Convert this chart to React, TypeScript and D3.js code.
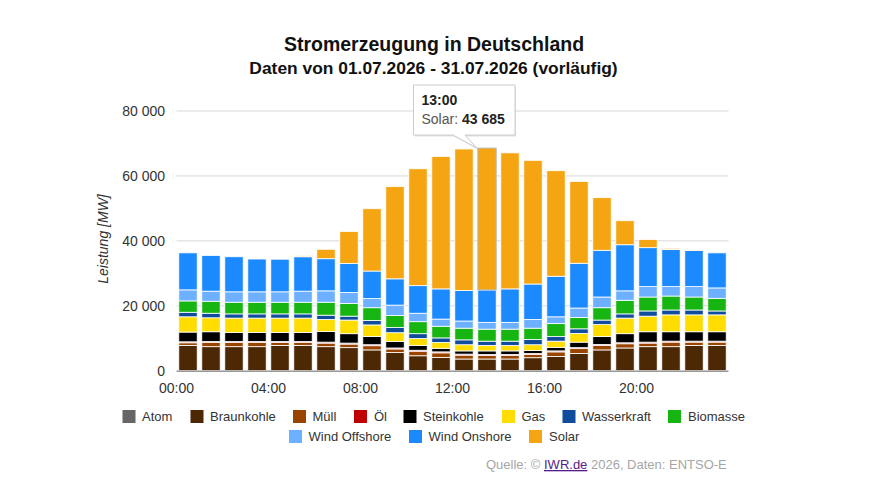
import { useEffect, useRef } from "react";
import * as d3 from "d3";

const hours = d3.range(0, 24);
const atom = [0, 0, 0, 0, 0, 0, 0, 0, 0, 0, 0, 0, 0, 0, 0, 0, 0, 0, 0, 0, 0, 0, 0, 0];
const braunkohle = [7800, 7400, 7400, 7400, 7800, 7800, 7400, 7100, 6400, 5600, 4600, 4100, 3600, 3600, 3600, 4000, 4400, 5300, 6400, 7000, 7400, 7400, 7800, 7800];
const muell = [800, 1300, 1300, 1300, 900, 900, 1100, 1100, 1300, 1100, 1400, 1400, 1200, 1100, 1100, 1000, 1400, 1500, 1400, 1300, 1100, 1400, 1000, 1000];
const oel = [300, 300, 300, 300, 300, 300, 300, 300, 300, 300, 300, 300, 300, 300, 300, 300, 300, 300, 300, 300, 300, 300, 300, 300];
const steinkohle = [3000, 3000, 2800, 2800, 2800, 2800, 3300, 2900, 2500, 2000, 1500, 1100, 1000, 1100, 1100, 900, 1100, 1700, 2400, 2800, 3200, 2900, 2900, 2900];
const gas = [4700, 4300, 4400, 4400, 4400, 4400, 3700, 4200, 3600, 2700, 2100, 1800, 1900, 1700, 1700, 1800, 1900, 2700, 3700, 4800, 4800, 5200, 5200, 5200];
const wasserkraft = [1400, 1400, 1300, 1300, 1300, 1300, 1300, 1200, 1400, 1600, 1500, 1400, 1500, 1300, 1300, 1600, 1400, 1400, 1400, 1300, 1600, 1500, 1500, 1200];
const biomasse = [3500, 3700, 3600, 3600, 3600, 3600, 4000, 3900, 3900, 3700, 3700, 3600, 3600, 3700, 3700, 3500, 4000, 3500, 3800, 4200, 4300, 4300, 4000, 3900];
const windOffshore = [3400, 3100, 3200, 3200, 3200, 3400, 3500, 3400, 2800, 3200, 2600, 2200, 2200, 2100, 2100, 2700, 2100, 2900, 3300, 2900, 3200, 2900, 3200, 3200];
const windOnshore = [11400, 11000, 10800, 10100, 10100, 10600, 9900, 8900, 8500, 8100, 8500, 9300, 9400, 10000, 10300, 10900, 12500, 13800, 14400, 14200, 12000, 11400, 11100, 10800];
const solar = [0, 0, 0, 0, 200, 300, 2900, 9900, 19200, 28400, 36000, 40800, 43600, 43685, 41900, 38100, 32500, 25200, 16200, 7400, 2500, 400, 200, 0];

const seriesNames = ["Atom", "Braunkohle", "Müll", "Öl", "Steinkohle", "Gas", "Wasserkraft", "Biomasse", "Wind Offshore", "Wind Onshore", "Solar"];
const seriesValues = [atom, braunkohle, muell, oel, steinkohle, gas, wasserkraft, biomasse, windOffshore, windOnshore, solar];
const seriesColors = ["#666666", "#4d2804", "#994500", "#c00000", "#000000", "#ffdd00", "#0f4c9c", "#17b512", "#6cb0ff", "#1c8aff", "#f5a511"];

const yTicks = [0, 20000, 40000, 60000, 80000];
const xTicks = [0, 4, 8, 12, 16, 20];

const FONT = "'Liberation Sans', Arial, sans-serif";
const width = 872;
const height = 491;

// legend layout, [symbol x, text x, row y] in series order
const legendPos = [
	[122.5, 142, 416.5], [190.5, 210, 416.5], [293, 312.5, 416.5], [354, 374, 416.5],
	[403.5, 423, 416.5], [502, 521.5, 416.5], [562.5, 582, 416.5], [668, 688, 416.5],
	[289, 308.5, 436.5], [409, 428.5, 436.5], [529, 549, 436.5],
];

export default function App() {
	const svgRef = useRef<SVGSVGElement>(null);

	useEffect(() => {
		if (!svgRef.current) return;
		const svg = d3.select(svgRef.current);
		svg.selectAll("*").remove();

		const x = d3
			.scaleBand<number>()
			.domain(hours)
			.range([176.5, 728.5])
			.paddingInner(0.2)
			.paddingOuter(0.1);
		const xTime = d3.scaleLinear().domain([0, 24]).range([176, 728]);
		const y = d3.scaleLinear().domain([0, 80000]).range([370.7, 111]);

		// gridlines
		svg.append("g")
			.selectAll("line")
			.data(yTicks.slice(1))
			.join("line")
			.attr("x1", 176.5)
			.attr("x2", 728.5)
			.attr("y1", (d) => y(d))
			.attr("y2", (d) => y(d))
			.attr("stroke", "#d8d8d8")
			.attr("stroke-width", 1);

		// stacked bars
		const rows = hours.map((h) => {
			const row: Record<string, number> = { hour: h };
			seriesNames.forEach((n, i) => (row[n] = seriesValues[i][h]));
			return row;
		});
		const stacked = d3.stack<Record<string, number>>().keys(seriesNames)(rows);

		svg.append("g")
			.selectAll("g")
			.data(stacked)
			.join("g")
			.attr("fill", (_, i) => seriesColors[i])
			.selectAll("rect")
			.data((s) => s.filter((d) => d[1] - d[0] > 0))
			.join("rect")
			.attr("x", (d) => x(d.data.hour) as number)
			.attr("width", x.bandwidth())
			.attr("y", (d) => y(d[1]))
			.attr("height", (d) => y(d[0]) - y(d[1]))
			.attr("stroke", "#ffffff")
			.attr("stroke-width", 0.8);

		// hovered solar bar
		const solarTop = stacked[stacked.length - 1][13];
		svg.append("rect")
			.attr("x", x(13) as number)
			.attr("width", x.bandwidth())
			.attr("y", y(solarTop[1]))
			.attr("height", y(solarTop[0]) - y(solarTop[1]))
			.attr("fill", "#f5a511")
			.attr("stroke", "#bcbcbc")
			.attr("stroke-width", 1);

		// axes
		const xAxis = svg
			.append("g")
			.attr("transform", "translate(0,370.7)")
			.call(
				d3.axisBottom(xTime)
					.tickValues(xTicks)
					.tickSize(0)
					.tickPadding(12)
					.tickFormat((d) => d3.format("02")(d as number) + ":00"),
			);
		xAxis.select(".domain").attr("stroke", "#999999").attr("stroke-width", 1.5);

		const yAxis = svg
			.append("g")
			.attr("transform", "translate(177,0)")
			.call(
				d3.axisLeft(y)
					.tickValues(yTicks)
					.tickSize(0)
					.tickPadding(12)
					.tickFormat((d) => d3.format(",")(d as number).replace(",", " ")),
			);
		yAxis.select(".domain").remove();

		svg.selectAll(".tick text")
			.attr("font-family", FONT)
			.attr("font-size", 14)
			.attr("fill", "#333333");

		svg.append("text")
			.attr("transform", "translate(108,239) rotate(-90)")
			.attr("text-anchor", "middle")
			.attr("font-family", FONT)
			.attr("font-size", 14)
			.attr("font-style", "italic")
			.attr("fill", "#333333")
			.text("Leistung [MW]");

		// titles
		svg.append("text")
			.attr("x", 434)
			.attr("y", 51)
			.attr("text-anchor", "middle")
			.attr("font-family", FONT)
			.attr("font-size", 19.5)
			.attr("font-weight", "bold")
			.attr("fill", "#111111")
			.text("Stromerzeugung in Deutschland");
		svg.append("text")
			.attr("x", 433.5)
			.attr("y", 73.5)
			.attr("text-anchor", "middle")
			.attr("font-family", FONT)
			.attr("font-size", 17.4)
			.attr("font-weight", "bold")
			.attr("fill", "#111111")
			.text("Daten von 01.07.2026 - 31.07.2026 (vorläufig)");

		// legend
		const legend = svg
			.append("g")
			.selectAll("g")
			.data(seriesNames)
			.join("g");
		legend
			.append("rect")
			.attr("x", (_, i) => legendPos[i][0])
			.attr("y", (_, i) => legendPos[i][2] - 6.5)
			.attr("width", 13)
			.attr("height", 13)
			.attr("fill", (_, i) => seriesColors[i]);
		legend
			.append("text")
			.attr("x", (_, i) => legendPos[i][1])
			.attr("y", (_, i) => legendPos[i][2] + 4.5)
			.attr("font-family", FONT)
			.attr("font-size", 13)
			.attr("fill", "#333333")
			.text((d) => d);

		// source line
		const source = svg
			.append("text")
			.attr("x", 486)
			.attr("y", 469)
			.attr("font-family", FONT)
			.attr("font-size", 13)
			.attr("fill", "#a6a6a6");
		source.append("tspan").text("Quelle: © ");
		source
			.append("tspan")
			.attr("fill", "#551a8b")
			.attr("text-decoration", "underline")
			.text("IWR.de");
		source.append("tspan").text(" 2026, Daten: ENTSO-E");

		// tooltip
		const tipX = (x(13) as number) - 1;
		const tipY = y(solarTop[1]);
		const tip = svg.append("g");
		const boxPath = d3.path();
		boxPath.moveTo(413.5, 85);
		boxPath.lineTo(515, 85);
		boxPath.lineTo(515, 135);
		boxPath.lineTo(465, 135);
		boxPath.lineTo(tipX, tipY);
		boxPath.lineTo(453, 135);
		boxPath.lineTo(413.5, 135);
		boxPath.closePath();
		tip.append("path")
			.attr("d", boxPath.toString())
			.attr("fill", "#000000")
			.attr("opacity", 0.12)
			.attr("transform", "translate(1,1.5)");
		tip.append("path")
			.attr("d", boxPath.toString())
			.attr("fill", "#ffffff")
			.attr("stroke", "#cccccc")
			.attr("stroke-width", 1);
		tip.append("text")
			.attr("x", 421.5)
			.attr("y", 105)
			.attr("font-family", FONT)
			.attr("font-size", 14)
			.attr("font-weight", "bold")
			.attr("fill", "#222222")
			.text("13:00");
		const tipLine = tip
			.append("text")
			.attr("x", 421.5)
			.attr("y", 124)
			.attr("font-family", FONT)
			.attr("font-size", 14)
			.attr("fill", "#555555");
		tipLine.append("tspan").text("Solar: ");
		tipLine
			.append("tspan")
			.attr("font-weight", "bold")
			.attr("fill", "#222222")
			.text("43 685");
	}, []);

	return (
		<svg
			ref={svgRef}
			width={width}
			height={height}
			style={{ position: "absolute", left: 0, top: 0, background: "#ffffff" }}
		/>
	);
}
